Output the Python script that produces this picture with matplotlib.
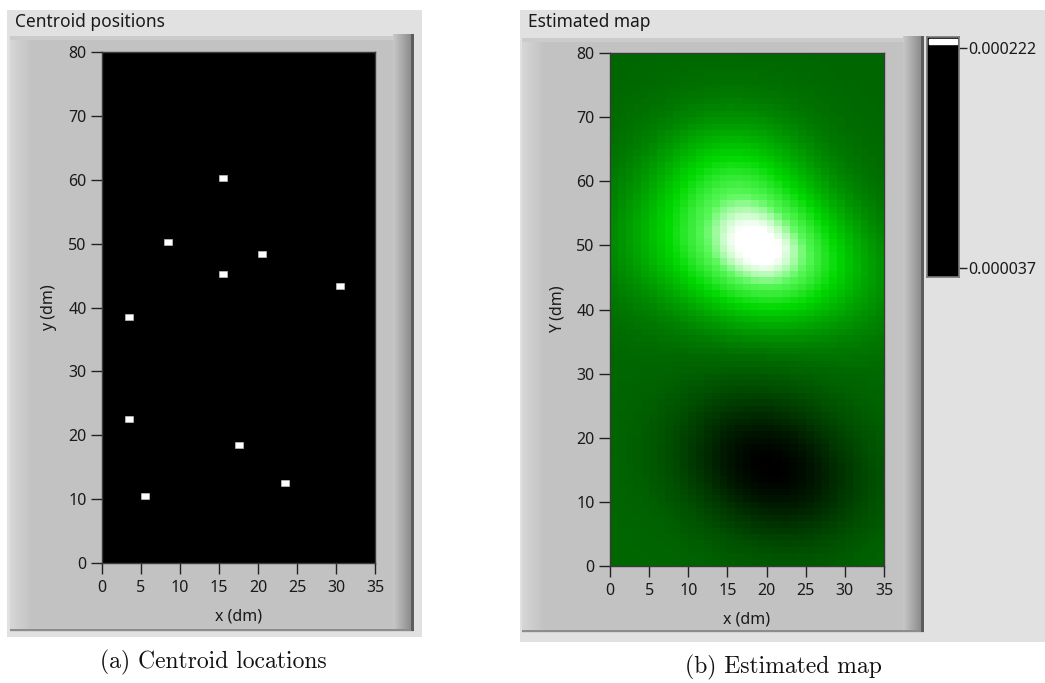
import numpy as np
import matplotlib
matplotlib.use("Agg")
import matplotlib.pyplot as plt
from matplotlib.colors import LinearSegmentedColormap, Normalize
from matplotlib.patches import Rectangle
from matplotlib.path import Path

# ---- data -------------------------------------------------------------
centroid_x = [15.5, 8.5, 20.5, 15.5, 30.5, 3.5, 3.5, 17.5, 5.5, 23.5]
centroid_y = [60.3, 50.3, 48.3, 45.3, 43.3, 38.5, 22.5, 18.5, 10.5, 12.5]

# RBF weights of the estimated map (one per centroid) and its offset
map_weights = [55e-6, 30e-6, 92e-6, 5e-6, 15e-6, 0.0, 0.0, -43e-6, 0.0, -43e-6]
map_offset = 108e-6
rbf_sigma = 7.0

map_x_edges = np.arange(0, 36)
map_y_edges = np.arange(0, 81)

x_ticks = [0, 5, 10, 15, 20, 25, 30, 35]
y_ticks = [0, 10, 20, 30, 40, 50, 60, 70, 80]
scale_min = 0.000037
scale_max = 0.000222

# ---- figure in pixel units -------------------------------------------
W, H = 1045, 683
DPI = 100
fig = plt.figure(figsize=(W / DPI, H / DPI), dpi=DPI, facecolor="white")
UI_FONT = ["Noto Sans", "DejaVu Sans"]
UI_SIZE = 11.5
TEXT_COL = "#1a1a1a"


def px_axes(x0, y0, x1, y1, **kw):
    return fig.add_axes([x0 / W, 1 - y1 / H, (x1 - x0) / W, (y1 - y0) / H], **kw)


bg = px_axes(0, 0, W, H)
bg.axis("off")


def rect(x0, y0, x1, y1, color, z=1):
    bg.add_patch(Rectangle((x0, y0), x1 - x0, y1 - y0, facecolor=color,
                           edgecolor="none", zorder=z))


def hgrad(x0, y0, x1, y1, c0, c1, z=2):
    g = np.linspace(c0, c1, 64)[None, :]
    bg.imshow(np.repeat(g, 2, axis=0), cmap="gray", vmin=0, vmax=255,
              extent=(x0, x1, y1, y0), aspect="auto", zorder=z,
              interpolation="bilinear")


def panel(ox0, oy0, ox1, oy1, fx0, fy0, fx1, fy1, title):
    rect(ox0, oy0, ox1, oy1, "#e1e1e1", 0)
    rect(fx0, fy0, fx1, fy1, "#c2c2c2", 1)
    # bevels: light left edge, light top band, dark right edge, dark bottom line
    hgrad(fx0, fy0, fx0 + 22, fy1, 214, 194)
    rect(fx0, fy0, fx1 - 20, fy0 + 4, "#cbcbcb", 3)
    hgrad(fx1 - 21, fy0 - 2, fx1 - 3, fy1, 200, 140)
    rect(fx1 - 3, fy0 - 2, fx1, fy1, "#5c5c5c", 3)
    rect(fx0, fy1 - 3, fx1 - 3, fy1 - 1, "#8c8c8c", 3)
    rect(fx0, fy1 - 1, fx1, fy1, "#d2d2d2", 3)
    bg.text(ox0 + 8, oy0 + 12, title, fontsize=12.5, family=UI_FONT,
            color=TEXT_COL, va="center", ha="left", zorder=5)


panel(7, 10, 422, 637, 10, 36, 414, 632, "Centroid positions")
panel(520, 10, W, 642, 522, 38, 924, 633, "Estimated map")
bg.set_xlim(0, W)
bg.set_ylim(H, 0)

captions = ["(a) Centroid locations", "(b) Estimated map"]
CAP_FONT = ["cmr10", "DejaVu Serif"]
bg.text(213, 662, captions[0], fontsize=17, family=CAP_FONT,
        ha="center", va="center", color="#111111")
bg.text(783, 667, captions[1], fontsize=17, family=CAP_FONT,
        ha="center", va="center", color="#111111")


def style_axes(ax, ylabel):
    ax.set_xlim(0, 35)
    ax.set_ylim(0, 80)
    ax.set_xticks(x_ticks)
    ax.set_yticks(y_ticks)
    ax.tick_params(direction="out", length=8, width=1, color="#222222",
                   labelsize=UI_SIZE, labelcolor=TEXT_COL)
    ax.tick_params(axis="x", pad=4)
    ax.tick_params(axis="y", pad=3)
    for lab in ax.get_xticklabels() + ax.get_yticklabels():
        lab.set_family(UI_FONT)
    for s in ax.spines.values():
        s.set_color("#3a3a3a")
        s.set_linewidth(1)
    ax.set_xlabel("x (dm)", fontsize=UI_SIZE, family=UI_FONT, color=TEXT_COL,
                  labelpad=9)
    ax.set_ylabel(ylabel, fontsize=UI_SIZE, family=UI_FONT, color=TEXT_COL,
                  labelpad=8)


# ---- (a) centroid positions ------------------------------------------
ax1 = px_axes(102, 52, 375, 563)
ax1.set_facecolor("black")
box = Path([(-4, -3), (4, -3), (4, 3), (-4, 3), (-4, -3)],
           [Path.MOVETO, Path.LINETO, Path.LINETO, Path.LINETO, Path.CLOSEPOLY])
ax1.plot(centroid_x, centroid_y, linestyle="none", marker=box, markersize=6.2,
         markerfacecolor="white", markeredgecolor="#d0d0d0", markeredgewidth=0.4)
style_axes(ax1, "y (dm)")

# ---- (b) estimated map -------------------------------------------------
ax2 = px_axes(610, 53, 884, 566)
xc = (map_x_edges[:-1] + map_x_edges[1:]) / 2
yc = (map_y_edges[:-1] + map_y_edges[1:]) / 2
GX, GY = np.meshgrid(xc, yc)
field = np.full(GX.shape, map_offset)
for cx, cy, w in zip(centroid_x, centroid_y, map_weights):
    field += w * np.exp(-((GX - cx) ** 2 + (GY - cy) ** 2) / (2 * rbf_sigma ** 2))

green_ramp = LinearSegmentedColormap.from_list(
    "green_ramp", [(0.0, (0, 0, 0)), (0.39, (0, 0.41, 0)), (0.70, (0, 0.85, 0)),
                   (0.88, (0.35, 0.97, 0.35)), (1.0, (1, 1, 1))])
ax2.pcolormesh(map_x_edges, map_y_edges, field, cmap=green_ramp,
               norm=Normalize(scale_min, scale_max, clip=True), shading="flat")
style_axes(ax2, "Y (dm)")

# ---- colour scale --------------------------------------------------------
cax = px_axes(927, 37, 959, 277)
px_per = (268 - 48) / (scale_max - scale_min)
cax.set_ylim(scale_min - (277 - 268) / px_per, scale_max + (48 - 37) / px_per)
cax.set_xlim(0, 1)
cax.set_facecolor("black")
cax.axhspan(scale_max + (48 - 44) / px_per, scale_max + (48 - 39) / px_per,
            xmin=0.06, xmax=0.94, color="white")
cax.set_xticks([])
cax.yaxis.tick_right()
cax.set_yticks([scale_min, scale_max])
cax.set_yticklabels([f"{scale_min:.6f}", f"{scale_max:.6f}"])
cax.tick_params(axis="y", direction="out", length=6, width=1, color="#222222",
                labelsize=UI_SIZE, labelcolor=TEXT_COL, pad=1)
for lab in cax.get_yticklabels():
    lab.set_family(UI_FONT)
for s in cax.spines.values():
    s.set_color("#7a7a7a")
    s.set_linewidth(1.2)

fig.savefig("out.png", dpi=DPI, facecolor="white")
